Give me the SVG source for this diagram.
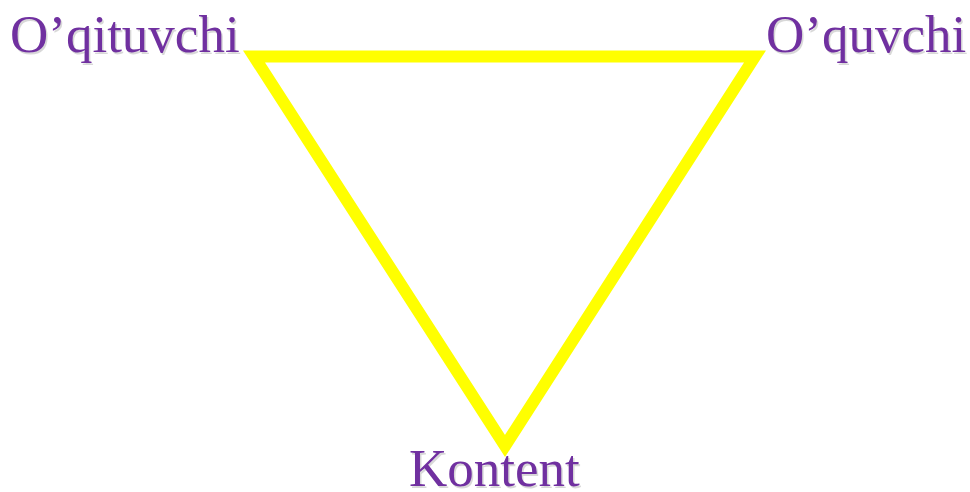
<svg xmlns="http://www.w3.org/2000/svg" width="970" height="492" viewBox="0 0 970 492">
  <style>
    .lbl { font-family: "Liberation Serif", "Times New Roman", serif; font-size: 53px; fill: #7030A0; }
    .shd { font-family: "Liberation Serif", "Times New Roman", serif; font-size: 53px; fill: #000; opacity: 0.15; }
    .edge { fill: none; stroke: #FFFF00; stroke-width: 12; stroke-linejoin: miter; stroke-miterlimit: 10; }
  </style>
  <rect width="970" height="492" fill="#FFFFFF"/>
  <g id="connectors">
    <polygon class="edge" points="254,56.5 755,56.5 505,446"/>
  </g>
  <g id="node-oqituvchi">
    <text class="shd" x="11.5" y="53.5">O’qituvchi</text>
    <text class="lbl" x="10" y="52">O’qituvchi</text>
  </g>
  <g id="node-oquvchi">
    <text class="shd" x="767.5" y="53.5">O’quvchi</text>
    <text class="lbl" x="766" y="52">O’quvchi</text>
  </g>
  <g id="node-kontent">
    <text class="shd" x="410.5" y="487.5">Kontent</text>
    <text class="lbl" x="409" y="486">Kontent</text>
  </g>
</svg>
